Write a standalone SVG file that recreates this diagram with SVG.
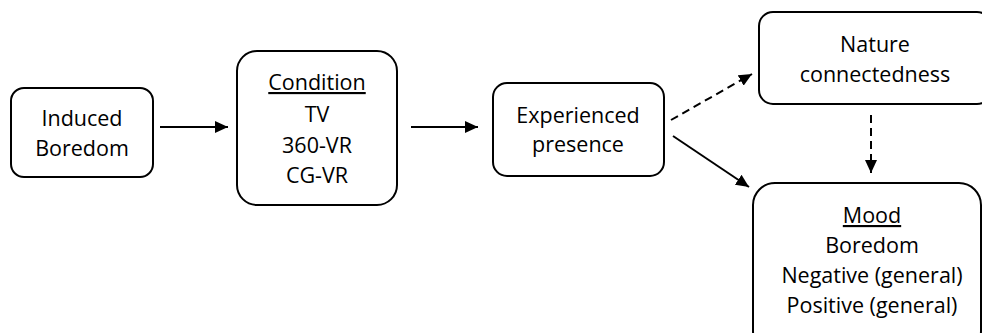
<svg xmlns="http://www.w3.org/2000/svg" width="982" height="333" viewBox="0 0 982 333">
  <defs>
    <marker id="arrow" markerUnits="userSpaceOnUse" markerWidth="14" markerHeight="12" refX="13" refY="6" orient="auto">
      <path d="M0,0 L13,6 L0,12 Z" fill="#000"/>
    </marker>
    <style>
      .box { fill: #fff; stroke: #000; stroke-width: 2; }
      .lbl { font-family: "Open Sans", "Liberation Sans", sans-serif; font-size: 21.5px; fill: #000; text-anchor: middle; }
      .u { text-decoration: underline; }
      .edge { stroke: #000; stroke-width: 2; fill: none; }
      .dash { stroke-dasharray: 8 5; }
    </style>
  </defs>
  <rect width="982" height="333" fill="#fff"/>

  <g id="connectors">
    <line class="edge" x1="160" y1="127" x2="228" y2="127" marker-end="url(#arrow)"/>
    <line class="edge" x1="411" y1="127" x2="478" y2="127" marker-end="url(#arrow)"/>
    <line class="edge dash" x1="671" y1="120" x2="752" y2="74" marker-end="url(#arrow)"/>
    <line class="edge" x1="673" y1="136" x2="749" y2="187" marker-end="url(#arrow)"/>
    <line class="edge dash" x1="871" y1="115" x2="871" y2="173" marker-end="url(#arrow)"/>
  </g>

  <g id="induced-boredom">
    <rect class="box" x="11" y="88" width="142" height="89" rx="13"/>
    <text class="lbl" x="82" y="126">Induced</text>
    <text class="lbl" x="82" y="156">Boredom</text>
  </g>

  <g id="condition">
    <rect class="box" x="237" y="51" width="160" height="154" rx="20"/>
    <text class="lbl u" x="317" y="90">Condition</text>
    <text class="lbl" x="317" y="122">TV</text>
    <text class="lbl" x="317" y="153">360-VR</text>
    <text class="lbl" x="317" y="183">CG-VR</text>
  </g>

  <g id="experienced-presence">
    <rect class="box" x="493" y="83" width="171" height="93" rx="14"/>
    <text class="lbl" x="578" y="123">Experienced</text>
    <text class="lbl" x="578" y="152">presence</text>
  </g>

  <g id="nature-connectedness">
    <rect class="box" x="759" y="12" width="232" height="92" rx="14"/>
    <text class="lbl" x="875" y="52">Nature</text>
    <text class="lbl" x="875" y="82">connectedness</text>
  </g>

  <g id="mood">
    <rect class="box" x="753" y="183" width="228" height="170" rx="22"/>
    <text class="lbl u" x="872" y="223">Mood</text>
    <text class="lbl" x="872" y="253">Boredom</text>
    <text class="lbl" x="872" y="283">Negative (general)</text>
    <text class="lbl" x="872" y="313">Positive (general)</text>
  </g>
</svg>
